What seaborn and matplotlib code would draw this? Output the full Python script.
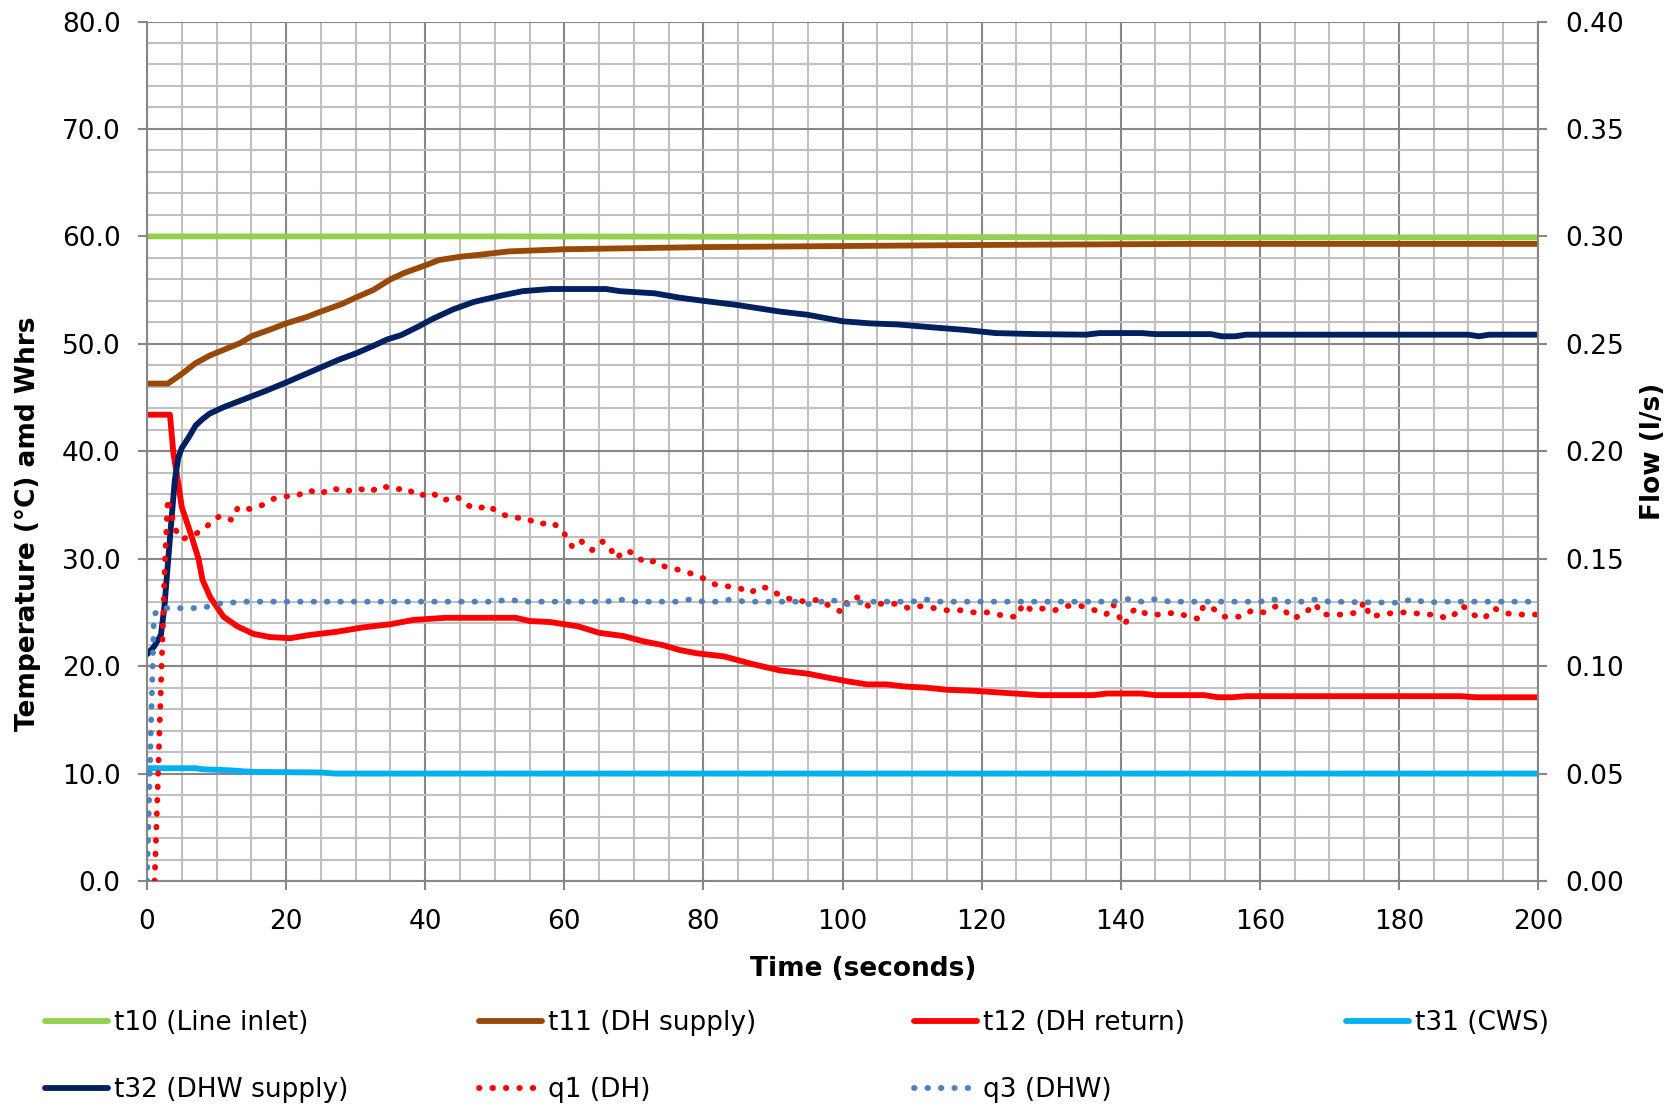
import matplotlib
matplotlib.use("Agg")
import matplotlib.pyplot as plt
from matplotlib.ticker import MultipleLocator, FormatStrFormatter
import seaborn as sns

# ---------------------------------------------------------------- data
# Temperatures (deg C) against time (s)
t10_time = [0, 50, 100, 150, 200]
t10_temp = [60.0, 60.0, 59.95, 59.9, 59.9]

t11_time = [0, 3, 5, 7, 9, 12, 13.5, 15, 18, 20, 23, 25, 28, 30, 32.5, 35, 37,
            40, 42, 45, 48, 52, 56, 60, 70, 80, 100, 120, 135, 150, 200]
t11_temp = [46.3, 46.3, 47.2, 48.2, 48.9, 49.7, 50.1, 50.7, 51.4, 51.9, 52.5,
            53.0, 53.7, 54.3, 55.0, 56.0, 56.6, 57.3, 57.8, 58.1, 58.3, 58.6,
            58.7, 58.8, 58.9, 59.0, 59.1, 59.2, 59.25, 59.3, 59.3]

t12_time = [0, 3.3, 3.8, 4.5, 5, 6.2, 7.4, 8, 9.1, 11, 13, 15.3, 17.7, 20.6,
            23.4, 27.3, 31, 35, 38.3, 43, 53, 55, 58, 62, 65, 68.5, 71.4, 74.2,
            76.6, 79, 83, 87, 91, 95, 97.7, 100.6, 103.5, 106.3, 109, 112, 115,
            119, 123.6, 128.4, 136, 138, 143, 145, 152, 154, 156, 158, 189,
            191, 200]
t12_temp = [43.4, 43.4, 39.8, 37.0, 34.8, 32.5, 30.0, 28.0, 26.4, 24.6, 23.7,
            23.0, 22.7, 22.6, 22.9, 23.2, 23.6, 23.9, 24.3, 24.5, 24.5, 24.2,
            24.1, 23.7, 23.1, 22.8, 22.3, 21.95, 21.5, 21.2, 20.9, 20.2, 19.6,
            19.3, 18.95, 18.6, 18.3, 18.3, 18.1, 18.0, 17.8, 17.7, 17.5, 17.3,
            17.3, 17.45, 17.45, 17.3, 17.3, 17.1, 17.1, 17.2, 17.2, 17.1, 17.1]

t31_time = [0, 7, 8, 12, 14, 16, 25, 27, 200]
t31_temp = [10.5, 10.5, 10.4, 10.3, 10.2, 10.15, 10.1, 10.0, 10.0]

t32_time = [0, 1, 2, 2.5, 3, 3.5, 4, 4.5, 5, 6, 7, 8, 9, 11, 13, 15, 17, 20,
            22.5, 25, 27.5, 30, 32.5, 34.5, 36.5, 39, 41, 44, 47, 51, 54, 58,
            66, 68, 73, 76.5, 80, 85, 88, 91, 95, 100, 104, 108, 113.5, 117.5,
            122, 128, 135, 137, 143, 145, 153, 154.5, 156.5, 158, 190, 191.5,
            193, 200]
t32_temp = [21.1, 21.8, 22.9, 25.5, 29.5, 33.5, 37.3, 39.4, 40.3, 41.3, 42.4,
            43.0, 43.5, 44.1, 44.6, 45.1, 45.6, 46.4, 47.1, 47.8, 48.5, 49.1,
            49.8, 50.4, 50.8, 51.6, 52.3, 53.2, 53.9, 54.5, 54.9, 55.1, 55.1,
            54.9, 54.7, 54.3, 54.0, 53.6, 53.3, 53.0, 52.7, 52.1, 51.9, 51.8,
            51.5, 51.3, 51.0, 50.9, 50.85, 51.0, 51.0, 50.9, 50.9, 50.7, 50.7,
            50.85, 50.85, 50.7, 50.85, 50.85]

# Flows (l/s) against time (s)
q1_time = [1.1, 2.1, 2.6, 3.0, 3.5, 4.0, 5.0, 6.7, 8.3, 9.5, 10.6, 12.2, 13.1,
           15.0, 16.6, 18.3, 19.7, 21.4, 23.2, 24.9, 26.6, 28.5, 30.2, 32.0,
           33.8, 35.6, 37.2, 39.0, 40.9, 42.5, 44.5, 46.0, 47.5, 49.0, 50.7,
           52.7, 54.4, 56.3, 58.2, 59.8, 60.6, 61.3, 62.5, 64.0, 65.5, 66.6,
           67.4, 68.8, 70.3, 71.5, 73.2, 74.6, 76.2, 78.3, 79.9, 81.7, 83.8,
           85.4, 86.7, 88.2, 89.6, 90.9, 92.7, 94.7, 96.6, 98.1, 100.0, 100.8,
           102.1, 103.7, 105.5, 107.6, 109.5, 110.9, 113.1, 115.0, 117.0,
           118.9, 120.8, 122.4, 123.7, 125.2, 125.9, 127.2, 129.2, 130.5,
           132.4, 134.3, 136.3, 137.9, 138.9, 139.6, 140.5, 141.5, 142.3,
           143.8, 145.9, 147.9, 149.8, 151.2, 151.9, 153.2, 154.8, 156.3,
           157.4, 158.9, 160.6, 162.4, 163.5, 164.8, 166.6, 168.0, 168.9,
           170.6, 172.3, 174.0, 175.1, 175.8, 177.6, 179.6, 181.6, 183.6,
           185.4, 187.0, 188.4, 189.2, 190.6, 192.2, 193.7, 194.8, 196.6,
           198.7, 200.0]
q1_flow = [0.000, 0.100, 0.150, 0.178, 0.171, 0.164, 0.159, 0.161, 0.164,
           0.168, 0.170, 0.168, 0.174, 0.173, 0.175, 0.178, 0.179, 0.179,
           0.182, 0.180, 0.183, 0.181, 0.183, 0.181, 0.184, 0.182, 0.183,
           0.179, 0.181, 0.177, 0.179, 0.175, 0.173, 0.175, 0.171, 0.169,
           0.169, 0.166, 0.167, 0.163, 0.158, 0.155, 0.158, 0.154, 0.158,
           0.155, 0.150, 0.154, 0.152, 0.148, 0.149, 0.146, 0.145, 0.143,
           0.141, 0.138, 0.137, 0.136, 0.134, 0.137, 0.136, 0.133, 0.131,
           0.130, 0.131, 0.128, 0.125, 0.131, 0.132, 0.128, 0.129, 0.129,
           0.127, 0.128, 0.127, 0.126, 0.126, 0.125, 0.125, 0.124, 0.123,
           0.123, 0.129, 0.126, 0.127, 0.126, 0.128, 0.128, 0.126, 0.124,
           0.129, 0.124, 0.119, 0.125, 0.127, 0.124, 0.124, 0.125, 0.123,
           0.122, 0.128, 0.127, 0.123, 0.123, 0.123, 0.126, 0.125, 0.128,
           0.126, 0.122, 0.125, 0.129, 0.124, 0.124, 0.124, 0.125, 0.130,
           0.123, 0.124, 0.125, 0.125, 0.124, 0.124, 0.122, 0.125, 0.128,
           0.124, 0.122, 0.127, 0.125, 0.124, 0.124, 0.124]

q3_time = [0, 1, 2, 8, 10, 14, 50, 52, 54, 66, 68, 70, 76, 78, 80, 82, 84, 86,
           94, 95.5, 97, 98, 99.5, 101, 103, 110, 112, 114, 139, 141, 143, 145,
           147, 160, 162, 164, 166, 168, 170, 180, 182, 184, 186, 200]
q3_flow = [0.0, 0.124, 0.127, 0.127, 0.129, 0.130, 0.130, 0.131, 0.130, 0.130,
           0.131, 0.130, 0.130, 0.131, 0.130, 0.130, 0.131, 0.130, 0.130,
           0.1285, 0.130, 0.131, 0.130, 0.1285, 0.130, 0.130, 0.131, 0.130,
           0.130, 0.1312, 0.130, 0.1312, 0.130, 0.130, 0.131, 0.130, 0.130,
           0.131, 0.130, 0.1295, 0.1312, 0.1295, 0.130, 0.130]

labels = ["t10 (Line inlet)", "t11 (DH supply)", "t12 (DH return)",
          "t31 (CWS)", "t32 (DHW supply)", "q1 (DH)", "q3 (DHW)"]
colors = ["#92D050", "#984807", "#FF0000", "#00B0F0", "#002060",
          "#FF0000", "#4F81BD"]

# ---------------------------------------------------------------- style
sns.set_style("white")
plt.rcParams["font.family"] = ["DejaVu Sans"]
plt.rcParams["text.color"] = "black"
plt.rcParams["axes.labelcolor"] = "black"

W, H = 1675, 1110
FS = 19
GRID_MAJOR = "#878787"
GRID_MINOR = "#C0C0C0"
LW = 4.2
DOTS = (0, (0.1, 2.2))

fig = plt.figure(figsize=(W / 100, H / 100), dpi=100)
ax = fig.add_axes([147 / W, 1 - 881 / H, (1538 - 147) / W, (881 - 21.5) / H])
ax2 = ax.twinx()

# ---------------------------------------------------------------- lines
handles = []
temp_series = [(t10_time, t10_temp), (t11_time, t11_temp),
               (t12_time, t12_temp), (t31_time, t31_temp),
               (t32_time, t32_temp)]
for (x, y), c in zip(temp_series, colors[:5]):
    sns.lineplot(x=x, y=y, ax=ax, color=c, linewidth=LW, legend=False)
    line = ax.lines[-1]
    line.set_solid_capstyle("round")
    line.set_solid_joinstyle("round")
    handles.append(line)

flow_series = [(q1_time, q1_flow), (q3_time, q3_flow)]
for (x, y), c in zip(flow_series, colors[5:]):
    sns.lineplot(x=x, y=y, ax=ax2, color=c, linewidth=LW, legend=False)
    line = ax2.lines[-1]
    line.set_linestyle(DOTS)
    line.set_dash_capstyle("round")
    handles.append(line)

for a in (ax, ax2):
    if a.get_legend() is not None:
        a.get_legend().remove()

# ---------------------------------------------------------------- axes
ax.set_xlim(0, 200)
ax.set_ylim(0, 80)
ax2.set_ylim(0, 0.4)

ax.xaxis.set_major_locator(MultipleLocator(20))
ax.xaxis.set_minor_locator(MultipleLocator(5))
ax.yaxis.set_major_locator(MultipleLocator(10))
ax.yaxis.set_minor_locator(MultipleLocator(2))
ax.yaxis.set_major_formatter(FormatStrFormatter("%.1f"))
ax2.yaxis.set_major_locator(MultipleLocator(0.05))
ax2.yaxis.set_major_formatter(FormatStrFormatter("%.2f"))

ax.set_axisbelow(True)
ax.grid(which="major", color=GRID_MAJOR, linewidth=1.5)
ax.grid(which="minor", color=GRID_MINOR, linewidth=1.5)
ax2.grid(False)

ax.tick_params(which="major", direction="out", length=6.5, width=1.5,
               color=GRID_MAJOR, labelsize=FS, labelcolor="black")
ax.tick_params(axis="y", which="major", pad=12.5, left=True)
ax.tick_params(axis="x", which="major", pad=14, bottom=True)
ax.tick_params(which="minor", length=0)
ax2.tick_params(axis="y", which="major", direction="out", length=6.5,
                width=1.5, color=GRID_MAJOR, labelsize=FS,
                labelcolor="black", pad=13, right=True)

for name, sp in ax.spines.items():
    sp.set_visible(name in ("left", "bottom"))
    sp.set_color(GRID_MAJOR)
    sp.set_linewidth(1.5)
for name, sp in ax2.spines.items():
    sp.set_visible(name == "right")
    sp.set_color(GRID_MAJOR)
    sp.set_linewidth(1.5)

ax.set_xlabel("Time (seconds)", fontsize=FS, fontweight="bold",
              color="black")
ax.set_ylabel("Temperature (\u00b0C) amd Whrs", fontsize=FS,
              fontweight="bold", color="black")
ax2.set_ylabel("Flow (l/s)", fontsize=FS, fontweight="bold", color="black")
for lab in (ax.xaxis.label, ax.yaxis.label, ax2.yaxis.label):
    lab.set_verticalalignment("center")
    lab.set_horizontalalignment("center")
ax.xaxis.set_label_coords(0.515, -0.102)
ax.yaxis.set_label_coords(-0.0855, 0.4157)
ax2.yaxis.set_label_coords(1.0827, 0.5)

# ---------------------------------------------------------------- legend
col_x = [45, 479, 914, 1346]
row_y = [1023, 1090]
for i, (h, lbl) in enumerate(zip(handles, labels)):
    r, c = divmod(i, 4)
    leg = fig.legend([h], [lbl], loc="center left",
                     bbox_to_anchor=(col_x[c] / W, 1 - row_y[r] / H),
                     frameon=False, borderpad=0, borderaxespad=0,
                     handlelength=2.4, handletextpad=0.22, fontsize=FS)
    for txt in leg.get_texts():
        txt.set_color("black")

fig.savefig("out.png", dpi=100)
